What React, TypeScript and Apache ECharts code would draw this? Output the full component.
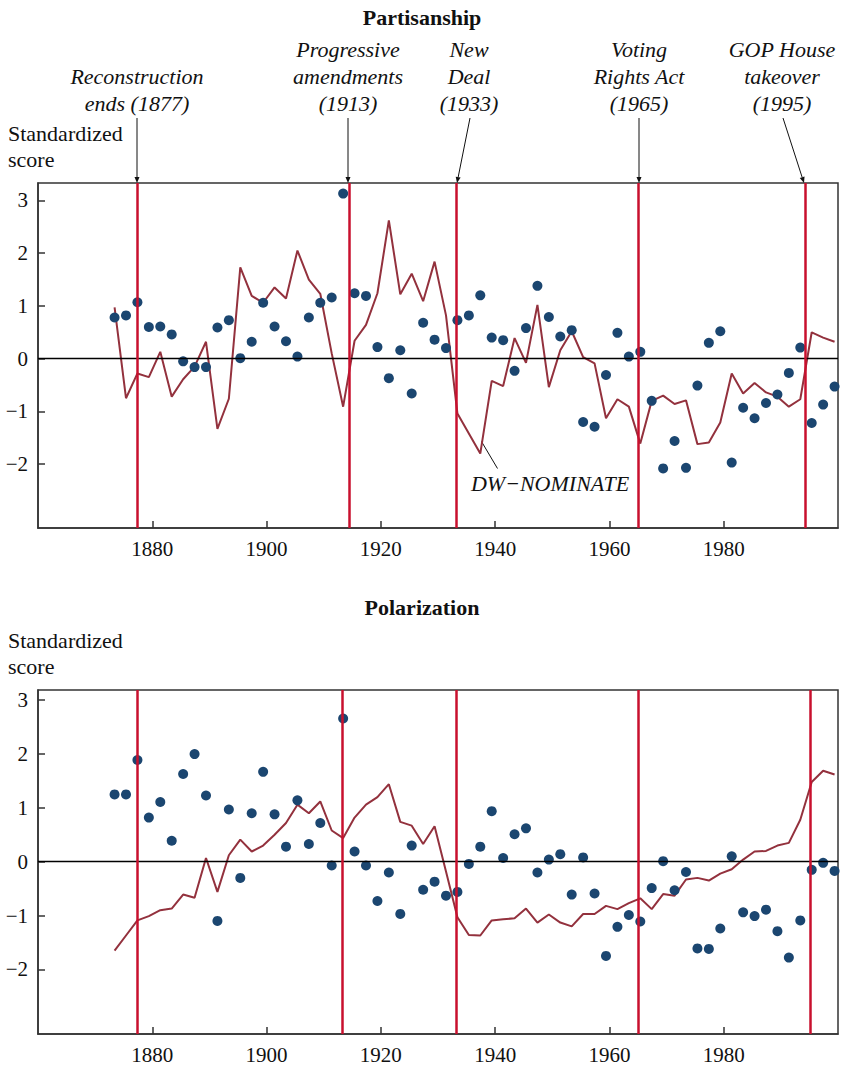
import React, { useEffect, useRef } from "react";
import * as echarts from "echarts";

const years = [
  1873, 1875, 1877, 1879, 1881, 1883, 1885, 1887, 1889, 1891,
  1893, 1895, 1897, 1899, 1901, 1903, 1905, 1907, 1909, 1911,
  1913, 1915, 1917, 1919, 1921, 1923, 1925, 1927, 1929, 1931,
  1933, 1935, 1937, 1939, 1941, 1943, 1945, 1947, 1949, 1951,
  1953, 1955, 1957, 1959, 1961, 1963, 1965, 1967, 1969, 1971,
  1973, 1975, 1977, 1979, 1981, 1983, 1985, 1987, 1989, 1991,
  1993, 1995, 1997, 1999,
];

const partisanshipDots = [
  0.78, 0.82, 1.07, 0.6, 0.61, 0.46, -0.05, -0.16, -0.16, 0.59,
  0.73, 0.01, 0.32, 1.06, 0.61, 0.33, 0.04, 0.78, 1.06, 1.16,
  3.13, 1.24, 1.19, 0.22, -0.37, 0.16, -0.66, 0.68, 0.36, 0.2,
  0.73, 0.82, 1.2, 0.4, 0.35, -0.23, 0.58, 1.38, 0.79, 0.42,
  0.54, -1.2, -1.29, -0.31, 0.49, 0.04, 0.13, -0.8, -2.08, -1.56,
  -2.07, -0.51, 0.3, 0.52, -1.97, -0.93, -1.13, -0.84, -0.68, -0.27,
  0.21, -1.22, -0.87, -0.53,
];

const partisanshipNominate = [
  0.97, -0.75, -0.28, -0.35, 0.13, -0.72, -0.39, -0.15, 0.32, -1.33,
  -0.76, 1.73, 1.19, 1.06, 1.35, 1.14, 2.05, 1.5, 1.23, 0.1,
  -0.91, 0.34, 0.64, 1.24, 2.62, 1.22, 1.61, 1.09, 1.84, 0.82,
  -1.04, -1.42, -1.8, -0.42, -0.52, 0.39, -0.08, 1.02, -0.54, 0.16,
  0.52, 0.03, -0.09, -1.13, -0.77, -0.91, -1.61, -0.8, -0.7, -0.86,
  -0.79, -1.62, -1.59, -1.21, -0.28, -0.66, -0.46, -0.64, -0.72, -0.91,
  -0.77, 0.5, 0.4, 0.32,
];

const polarizationDots = [
  1.25, 1.25, 1.89, 0.82, 1.11, 0.39, 1.63, 2.0, 1.23, -1.1,
  0.97, -0.3, 0.9, 1.67, 0.88, 0.28, 1.14, 0.33, 0.72, -0.07,
  2.66, 0.19, -0.07, -0.73, -0.2, -0.97, 0.3, -0.52, -0.37, -0.63,
  -0.56, -0.04, 0.28, 0.94, 0.07, 0.51, 0.62, -0.2, 0.04, 0.14,
  -0.61, 0.08, -0.59, -1.75, -1.21, -0.99, -1.11, -0.49, 0.01, -0.53,
  -0.19, -1.61, -1.62, -1.24, 0.1, -0.94, -1.01, -0.89, -1.29, -1.78,
  -1.09, -0.15, -0.02, -0.17,
];

const polarizationNominate = [
  -1.65, -1.37, -1.09, -1.01, -0.9, -0.87, -0.61, -0.67, 0.07, -0.56,
  0.12, 0.41, 0.19, 0.3, 0.5, 0.72, 1.06, 0.9, 1.12, 0.58,
  0.44, 0.82, 1.06, 1.2, 1.44, 0.74, 0.67, 0.33, 0.66, -0.18,
  -1.03, -1.36, -1.37, -1.09, -1.07, -1.05, -0.87, -1.13, -0.98, -1.13,
  -1.2, -0.97, -0.97, -0.82, -0.88, -0.77, -0.68, -0.88, -0.6, -0.63,
  -0.33, -0.3, -0.35, -0.22, -0.14, 0.04, 0.19, 0.2, 0.3, 0.35,
  0.78, 1.48, 1.69, 1.62,
];

const eventYearsTop = [1877.4, 1914.4, 1933.2, 1965.1, 1994.2];
const eventYearsBottom = [1877.4, 1913.2, 1933.2, 1965.1, 1995.2];

const xTicks = [1880, 1900, 1920, 1940, 1960, 1980];
const yTicks = [-2, -1, 0, 1, 2, 3];

const eventLabels = [
  { lines: ["Reconstruction", "ends (1877)"], x: 137 },
  { lines: ["Progressive", "amendments", "(1913)"], x: 348 },
  { lines: ["New", "Deal", "(1933)"], x: 469 },
  { lines: ["Voting", "Rights Act", "(1965)"], x: 639 },
  { lines: ["GOP House", "takeover", "(1995)"], x: 782 },
];

const FONT = "Liberation Serif";
const DOT = "#1b4670";
const LINE = "#93313d";
const EVENT = "#c8102e";
const FRAME = "#333333";

const fmtY = (v: number) => (v < 0 ? "\u2212" + Math.abs(v) : String(v));
const fmtX = (v: number) => String(v);

function arrow(x1: number, y1: number, x2: number, y2: number) {
  const dx = x2 - x1;
  const dy = y2 - y1;
  const len = Math.sqrt(dx * dx + dy * dy);
  const ux = dx / len;
  const uy = dy / len;
  const hl = 6;
  const hw = 2.5;
  const bx = x2 - ux * hl;
  const by = y2 - uy * hl;
  return [
    {
      type: "line",
      shape: { x1, y1, x2: bx, y2: by },
      style: { stroke: "#111", lineWidth: 1 },
      silent: true,
    },
    {
      type: "polygon",
      shape: {
        points: [
          [x2, y2],
          [bx - uy * hw, by + ux * hw],
          [bx + uy * hw, by - ux * hw],
        ],
      },
      style: { fill: "#111" },
      silent: true,
    },
  ];
}

export default function App() {
  const ref = useRef<HTMLDivElement>(null);

  useEffect(() => {
    if (!ref.current) return;
    const chart = echarts.init(ref.current, null, { renderer: "svg" });

    const topGrid = { left: 38, top: 183, width: 800, height: 345 };
    const botGrid = { left: 38, top: 690, width: 800, height: 344 };

    const makeX = (gridIndex: number) => ({
      type: "value",
      gridIndex,
      min: 1860,
      max: 2000,
      axisLine: { show: true, onZero: false, lineStyle: { color: FRAME, width: 1.5 } },
      axisTick: {
        show: true,
        inside: true,
        length: 7,
        customValues: xTicks,
        lineStyle: { color: FRAME, width: 1.5 },
      },
      axisLabel: {
        customValues: xTicks,
        formatter: fmtX,
        color: "#111",
        fontFamily: FONT,
        fontSize: 21,
        margin: 10,
      },
      splitLine: { show: false },
    });

    const makeY = (gridIndex: number, min: number, max: number) => ({
      type: "value",
      gridIndex,
      min,
      max,
      axisLine: { show: true, onZero: false, lineStyle: { color: FRAME, width: 1.5 } },
      axisTick: {
        show: true,
        inside: true,
        length: 7,
        customValues: yTicks,
        lineStyle: { color: FRAME, width: 1.5 },
      },
      axisLabel: {
        customValues: yTicks,
        formatter: fmtY,
        color: "#111",
        fontFamily: FONT,
        fontSize: 21,
        margin: 10,
      },
      splitLine: { show: false },
    });

    const panelSeries = (idx: number, dots: number[], nom: number[], events: number[]) => [
      {
        type: "line",
        xAxisIndex: idx,
        yAxisIndex: idx,
        data: [],
        z: 1,
        silent: true,
        markLine: {
          silent: true,
          symbol: ["none", "none"],
          label: { show: false },
          lineStyle: { color: "#000", width: 1.3, type: "solid" },
          data: [{ yAxis: 0 }],
        },
      },
      {
        type: "line",
        xAxisIndex: idx,
        yAxisIndex: idx,
        data: [],
        z: 2,
        silent: true,
        markLine: {
          silent: true,
          symbol: ["none", "none"],
          label: { show: false },
          lineStyle: { color: EVENT, width: 2.5, type: "solid" },
          data: events.map((v) => ({ xAxis: v })),
        },
      },
      {
        type: "line",
        xAxisIndex: idx,
        yAxisIndex: idx,
        data: years.map((y, i) => [y + 0.4, nom[i]]),
        showSymbol: false,
        symbol: "none",
        lineStyle: { color: LINE, width: 2 },
        z: 3,
        silent: true,
      },
      {
        type: "scatter",
        xAxisIndex: idx,
        yAxisIndex: idx,
        data: years.map((y, i) => [y + 0.4, dots[i]]),
        symbol: "circle",
        symbolSize: 10,
        itemStyle: { color: DOT, opacity: 1 },
        z: 4,
        silent: true,
      },
    ];

    const graphics: any[] = [];
    const addText = (
      text: string,
      x: number,
      y: number,
      size: number,
      weight = "normal",
      fontStyle = "normal",
      align = "center"
    ) => {
      graphics.push({
        type: "text",
        x,
        y,
        silent: true,
        style: {
          text,
          x: 0,
          y: 0,
          fontFamily: FONT,
          fontSize: size,
          fontWeight: weight,
          fontStyle,
          fill: "#111",
          textAlign: align,
          textVerticalAlign: "middle",
        },
      });
    };

    addText("Partisanship", 422, 17, 22, "bold");
    addText("Polarization", 422, 607, 22, "bold");
    addText("Standardized", 8, 133, 22, "normal", "normal", "left");
    addText("score", 8, 159, 22, "normal", "normal", "left");
    addText("Standardized", 8, 640, 22, "normal", "normal", "left");
    addText("score", 8, 666, 22, "normal", "normal", "left");

    eventLabels.forEach((ev) => {
      const n = ev.lines.length;
      ev.lines.forEach((ln, i) => {
        const y = 103 - (n - 1 - i) * 27;
        addText(ln, ev.x, y, 22, "normal", "italic");
      });
    });

    graphics.push(...arrow(137, 118, 137, 183));
    graphics.push(...arrow(348, 118, 348, 183));
    graphics.push(...arrow(470, 118, 457, 183));
    graphics.push(...arrow(639, 118, 639, 183));
    graphics.push(...arrow(783, 118, 804, 183));

    addText("DW\u2212NOMINATE", 550, 483, 22, "normal", "italic");
    graphics.push({
      type: "line",
      shape: { x1: 481.5, y1: 441.5, x2: 497.5, y2: 468.5 },
      style: { stroke: "#111", lineWidth: 1 },
      silent: true,
    });

    chart.setOption({
      animation: false,
      backgroundColor: "#ffffff",
      grid: [
        { ...topGrid, show: true, borderColor: FRAME, borderWidth: 1.5, backgroundColor: "transparent" },
        { ...botGrid, show: true, borderColor: FRAME, borderWidth: 1.5, backgroundColor: "transparent" },
      ],
      xAxis: [makeX(0), makeX(1)],
      yAxis: [makeY(0, -3.21, 3.33), makeY(1, -3.2, 3.19)],
      series: [
        ...panelSeries(0, partisanshipDots, partisanshipNominate, eventYearsTop),
        ...panelSeries(1, polarizationDots, polarizationNominate, eventYearsBottom),
      ],
      graphic: graphics,
    });

    return () => chart.dispose();
  }, []);

  return (
    <div
      ref={ref}
      style={{ position: "absolute", left: 0, top: 0, width: 842, height: 1065, background: "#fff" }}
    />
  );
}
